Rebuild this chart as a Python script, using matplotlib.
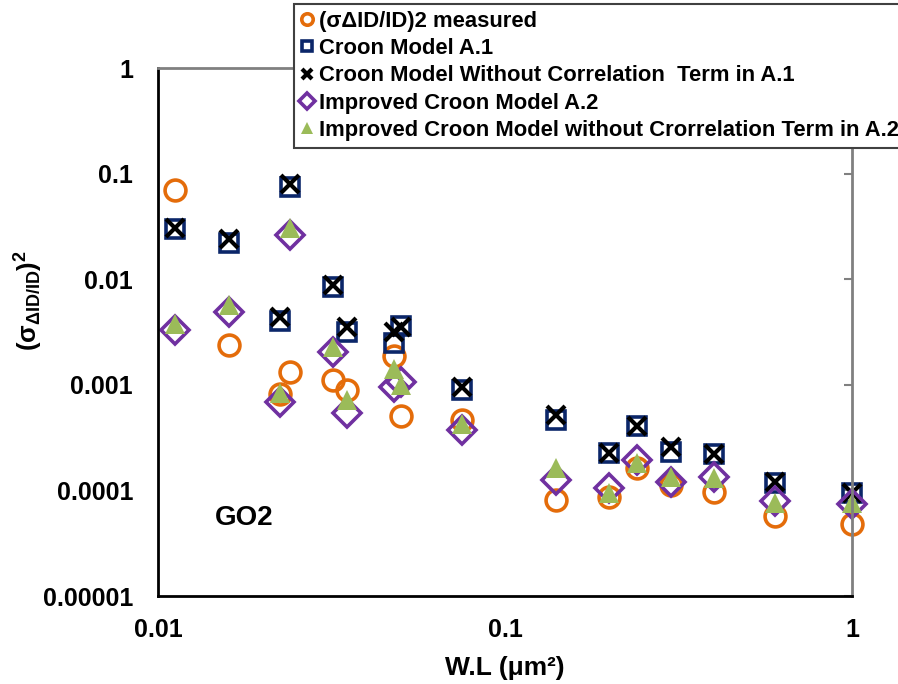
import matplotlib
matplotlib.use("Agg")
import matplotlib.pyplot as plt
from matplotlib.ticker import FixedLocator, FixedFormatter, NullLocator

plt.rcParams["font.family"] = ["Liberation Sans", "DejaVu Sans"]
plt.rcParams["font.weight"] = "bold"
plt.rcParams["mathtext.fontset"] = "custom"
plt.rcParams["mathtext.rm"] = "Liberation Sans:bold"
plt.rcParams["mathtext.it"] = "Liberation Sans:bold"
plt.rcParams["mathtext.bf"] = "Liberation Sans:bold"

# W.L values (um^2)
wl = [0.0112, 0.016, 0.0225, 0.024, 0.032, 0.035, 0.048, 0.050,
      0.075, 0.14, 0.20, 0.24, 0.30, 0.40, 0.60, 1.0]

measured = [0.070, 0.00238, 0.00082, 0.00132, 0.00111, 0.00089, 0.00189, 0.00051,
            0.000464, 0.000081, 0.000087, 0.000162, 0.000112, 0.000097, 0.0000577, 0.0000481]
croon_a1 = [0.0299, 0.0219, 0.00405, 0.0752, 0.0085, 0.00318, 0.0025, 0.00363,
            0.00089, 0.000464, 0.000224, 0.000407, 0.000233, 0.00022, 0.000117, 0.0000952]
croon_nocorr = [0.0305, 0.0239, 0.00442, 0.079, 0.0088, 0.00355, 0.00318, 0.0035,
                0.00095, 0.000517, 0.000224, 0.00041, 0.00026, 0.000222, 0.000119, 0.0000952]
improved_a2 = [0.0033, 0.00486, 0.00068, 0.0262, 0.00205, 0.000537, 0.00096, 0.00107,
               0.000373, 0.000126, 0.000105, 0.000194, 0.000119, 0.000133, 0.0000794, 0.0000738]
improved_nocorr = [0.0038, 0.0057, 0.00084, 0.0303, 0.0023, 0.000718, 0.00141, 0.001,
                   0.000425, 0.000162, 0.0000952, 0.00018, 0.000135, 0.00013, 0.0000766, 0.0000759]

labels = ["(\u03c3\u0394ID/ID)2 measured",
          "Croon Model A.1",
          "Croon Model Without Correlation  Term in A.1",
          "Improved Croon Model A.2",
          "Improved Croon Model without Crorrelation Term in A.2"]

fig = plt.figure(figsize=(8.98, 6.84), dpi=100)
ax = fig.add_axes([158/898, 1-596/684, 694/898, 528/684])

ax.plot(wl, measured, ls="none", marker="o", ms=15, mfc="none", mec="#E46C0A", mew=2.6,
        label=labels[0], clip_on=False)
ax.plot(wl, croon_a1, ls="none", marker="s", ms=13.5, mfc="none", mec="#0B2669", mew=2.6,
        label=labels[1], clip_on=False)
ax.plot(wl, croon_nocorr, ls="none", marker="x", ms=13.5, mec="black", mew=3,
        label=labels[2], clip_on=False)
ax.plot(wl, improved_a2, ls="none", marker="D", ms=14.5, mfc="none", mec="#7030A0", mew=2.6,
        label=labels[3], clip_on=False)
ax.plot(wl, improved_nocorr, ls="none", marker="^", ms=15, mfc="#9BBB59", mec="#9BBB59", mew=0,
        label=labels[4], clip_on=False)

ax.set_xscale("log")
ax.set_yscale("log")
ax.set_xlim(0.01, 1)
ax.set_ylim(1e-5, 1)

yt = [1e-5, 1e-4, 1e-3, 1e-2, 1e-1, 1]
ax.yaxis.set_major_locator(FixedLocator(yt))
ax.yaxis.set_major_formatter(FixedFormatter(["0.00001", "0.0001", "0.001", "0.01", "0.1", "1"]))
ax.yaxis.set_minor_locator(NullLocator())
xt = [0.01, 0.1, 1]
ax.xaxis.set_major_locator(FixedLocator(xt))
ax.xaxis.set_major_formatter(FixedFormatter(["0.01", "0.1", "1"]))
ax.xaxis.set_minor_locator(NullLocator())

ax.tick_params(axis="y", left=False, right=True, labelleft=True, labelright=False,
               direction="in", color="#808080", length=6, width=1.5, labelsize=18, pad=18)
ax.tick_params(axis="x", bottom=False, direction="in", labelsize=18, pad=16)

for s in ["left", "bottom"]:
    ax.spines[s].set_color("black")
    ax.spines[s].set_linewidth(2)
for s in ["top", "right"]:
    ax.spines[s].set_color("#808080")
    ax.spines[s].set_linewidth(2)

ax.set_xlabel("W.L (\u03bcm\u00b2)", fontsize=19, fontweight="bold", labelpad=10)
ax.set_ylabel(r"$(\sigma_{\Delta ID/ID})^2$", fontsize=18.5)
ax.yaxis.set_label_coords(-0.163, 0.56)

ax.text(0.124, 0.148, "GO2", transform=ax.transAxes, fontsize=20, fontweight="bold",
        ha="center", va="center")

leg = fig.legend(loc="upper left", bbox_to_anchor=(294/898, 1 - 4/684), bbox_transform=fig.transFigure,
                 fontsize=15.8, markerscale=0.55, handlelength=0.6, handletextpad=0.25,
                 labelspacing=0.29, borderpad=0.3, borderaxespad=0, fancybox=False,
                 edgecolor="#404040", framealpha=1)
leg.get_frame().set_linewidth(1.5)
for t in leg.get_texts():
    t.set_fontweight("bold")

fig.savefig("out.png", dpi=100)
